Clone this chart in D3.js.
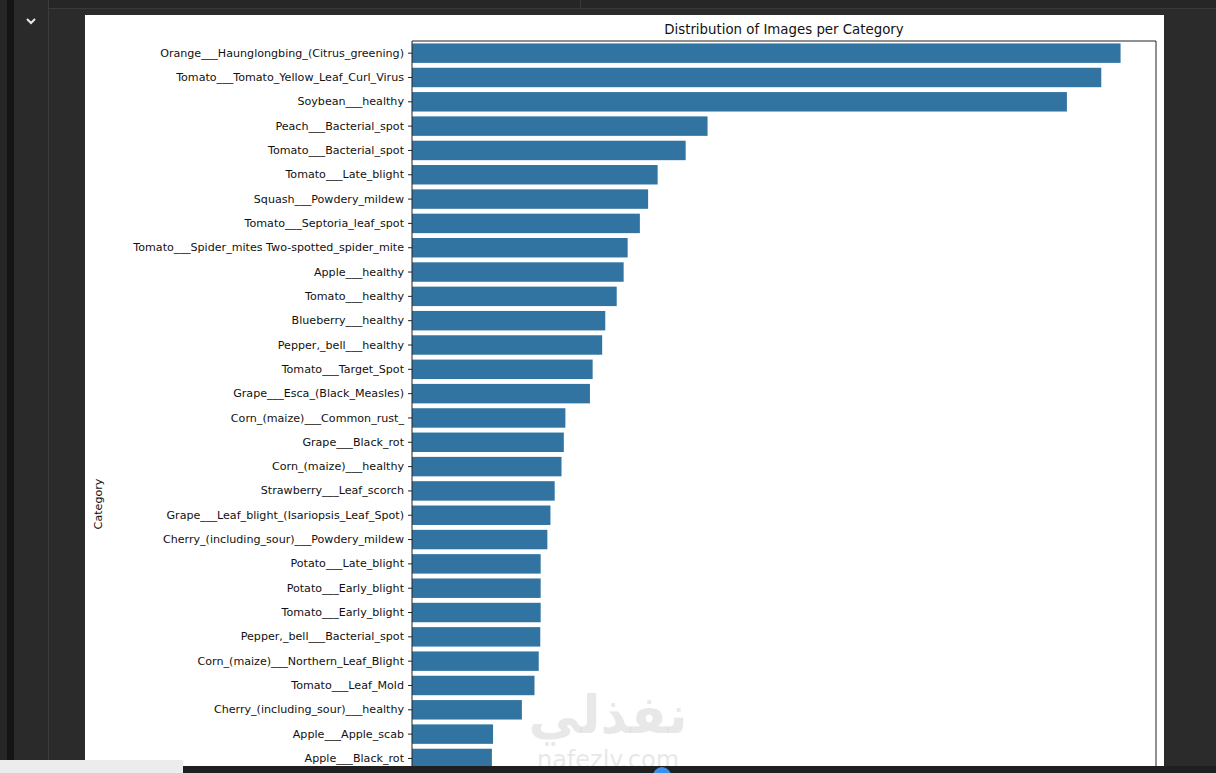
<!DOCTYPE html>
<html>
<head>
<meta charset="utf-8">
<script src="https://cdn.jsdelivr.net/npm/d3@7"></script>
<style>
  html, body { margin: 0; padding: 0; background: #2b2b2b; overflow: hidden; }
  svg { display: block; }
  .tick text { font-family: "DejaVu Sans", sans-serif; }
</style>
</head>
<body>
<svg id="chart" width="1216" height="773"></svg>
<script>
// Categories, sorted by image count (top to bottom)
const categories = [
  "Orange___Haunglongbing_(Citrus_greening)",
  "Tomato___Tomato_Yellow_Leaf_Curl_Virus",
  "Soybean___healthy",
  "Peach___Bacterial_spot",
  "Tomato___Bacterial_spot",
  "Tomato___Late_blight",
  "Squash___Powdery_mildew",
  "Tomato___Septoria_leaf_spot",
  "Tomato___Spider_mites Two-spotted_spider_mite",
  "Apple___healthy",
  "Tomato___healthy",
  "Blueberry___healthy",
  "Pepper,_bell___healthy",
  "Tomato___Target_Spot",
  "Grape___Esca_(Black_Measles)",
  "Corn_(maize)___Common_rust_",
  "Grape___Black_rot",
  "Corn_(maize)___healthy",
  "Strawberry___Leaf_scorch",
  "Grape___Leaf_blight_(Isariopsis_Leaf_Spot)",
  "Cherry_(including_sour)___Powdery_mildew",
  "Potato___Late_blight",
  "Potato___Early_blight",
  "Tomato___Early_blight",
  "Pepper,_bell___Bacterial_spot",
  "Corn_(maize)___Northern_Leaf_Blight",
  "Tomato___Leaf_Mold",
  "Cherry_(including_sour)___healthy",
  "Apple___Apple_scab",
  "Apple___Black_rot"
];

// Number of images per category
const counts = [
  5507, 5357, 5090, 2297, 2127, 1909, 1835, 1771, 1676, 1645,
  1591, 1502, 1478, 1404, 1383, 1192, 1180, 1162, 1109, 1076,
  1052, 1000, 1000, 1000, 997, 985, 952, 854, 630, 621
];

const data = categories.map((c, i) => ({ category: c, count: counts[i] }));

const svg = d3.select("#chart");

/**
 * Notebook frame around the figure
 */
svg.append("rect").attr("x", 0).attr("y", 0).attr("width", 1216).attr("height", 773).attr("fill", "#2b2b2b");
svg.append("rect").attr("x", 0).attr("y", 0).attr("width", 1216).attr("height", 8).attr("fill", "#262626");
svg.append("rect").attr("x", 48).attr("y", 8).attr("width", 1168).attr("height", 1).attr("fill", "#3a3a3a");
svg.append("rect").attr("x", 580).attr("y", 0).attr("width", 1).attr("height", 8).attr("fill", "#3a3a3a");
svg.append("rect").attr("x", 0).attr("y", 0).attr("width", 7).attr("height", 773).attr("fill", "#262626");
svg.append("rect").attr("x", 7).attr("y", 0).attr("width", 7).attr("height", 773).attr("fill", "#141414");
svg.append("rect").attr("x", 14).attr("y", 0).attr("width", 34).attr("height", 773).attr("fill", "#2a2a2a");
svg.append("rect").attr("x", 48).attr("y", 0).attr("width", 1).attr("height", 773).attr("fill", "#3c3c3c");
svg.append("path")
  .attr("d", "M27,19 L31,23 L35,19")
  .attr("fill", "none").attr("stroke", "#e8e8e8").attr("stroke-width", 2);

// White figure area
svg.append("rect").attr("x", 85).attr("y", 15).attr("width", 1079).attr("height", 760).attr("fill", "#ffffff");

/**
 * Axes
 */
const axLeft = 412, axRight = 1156, axTop = 41;
const step = 24.32;
const axBottom = 967; // axes continue below the visible area

const x = d3.scaleLinear()
  .domain([0, d3.max(counts) * 1.05])
  .range([axLeft, axRight]);

const y = d3.scaleBand()
  .domain(categories)
  .range([axTop, axTop + categories.length * step])
  .paddingInner(0.2)
  .paddingOuter(0.1);

const main = svg.append("g").attr("id", "chart-main");

main.selectAll(".bar")
  .data(data)
  .enter()
  .append("rect")
  .attr("class", "bar")
  .attr("x", x(0))
  .attr("y", d => y(d.category))
  .attr("width", d => x(d.count) - x(0))
  .attr("height", y.bandwidth())
  .attr("fill", "#3274a1");

const yAxis = main.append("g")
  .attr("transform", "translate(" + axLeft + ",0)")
  .call(d3.axisLeft(y).tickSize(4).tickPadding(4));

yAxis.select(".domain").remove();
yAxis.selectAll(".tick line").attr("stroke", "#222");
yAxis.selectAll(".tick text")
  .attr("fill", "#111")
  .style("font-size", "11.12px");

// Spines
const spines = [
  [axLeft, axTop, axLeft, axBottom],
  [axRight, axTop, axRight, axBottom],
  [axLeft, axTop, axRight, axTop],
  [axLeft, axBottom, axRight, axBottom]
];
main.selectAll(".spine")
  .data(spines)
  .enter()
  .append("line")
  .attr("class", "spine")
  .attr("x1", d => d[0]).attr("y1", d => d[1])
  .attr("x2", d => d[2]).attr("y2", d => d[3])
  .attr("stroke", "#222")
  .attr("stroke-width", 1);

// Title
main.append("text")
  .attr("x", (axLeft + axRight) / 2)
  .attr("y", 34)
  .attr("text-anchor", "middle")
  .style("font-family", "DejaVu Sans, sans-serif")
  .style("font-size", "13.35px")
  .attr("fill", "#111")
  .text("Distribution of Images per Category");

// Y label
main.append("text")
  .attr("transform", "translate(102," + ((axTop + axBottom) / 2) + ") rotate(-90)")
  .attr("text-anchor", "middle")
  .style("font-family", "DejaVu Sans, sans-serif")
  .style("font-size", "11.12px")
  .attr("fill", "#111")
  .text("Category");

/**
 * Watermark
 */
svg.append("text")
  .attr("x", 608).attr("y", 733)
  .attr("text-anchor", "middle")
  .style("font-family", "Noto Sans, DejaVu Sans, sans-serif")
  .style("font-size", "52px")
  .style("font-weight", "bold")
  .attr("fill", "#d8d8d8")
  .attr("fill-opacity", 0.6)
  .text("نفذلي");

svg.append("text")
  .attr("x", 608).attr("y", 768)
  .attr("text-anchor", "middle")
  .style("font-family", "DejaVu Sans, sans-serif")
  .style("font-size", "24px")
  .attr("fill", "#d8d8d8")
  .attr("fill-opacity", 0.6)
  .text("nafezly.com");

/**
 * Bottom overlay bars
 */
svg.append("rect").attr("x", 183).attr("y", 766).attr("width", 1033).attr("height", 7).attr("fill", "#1f1f1f");
svg.append("rect").attr("x", 0).attr("y", 760).attr("width", 183).attr("height", 13).attr("fill", "#ececec");
svg.append("circle").attr("cx", 662).attr("cy", 776).attr("r", 9).attr("fill", "#3b8eea");
</script>
</body>
</html>
